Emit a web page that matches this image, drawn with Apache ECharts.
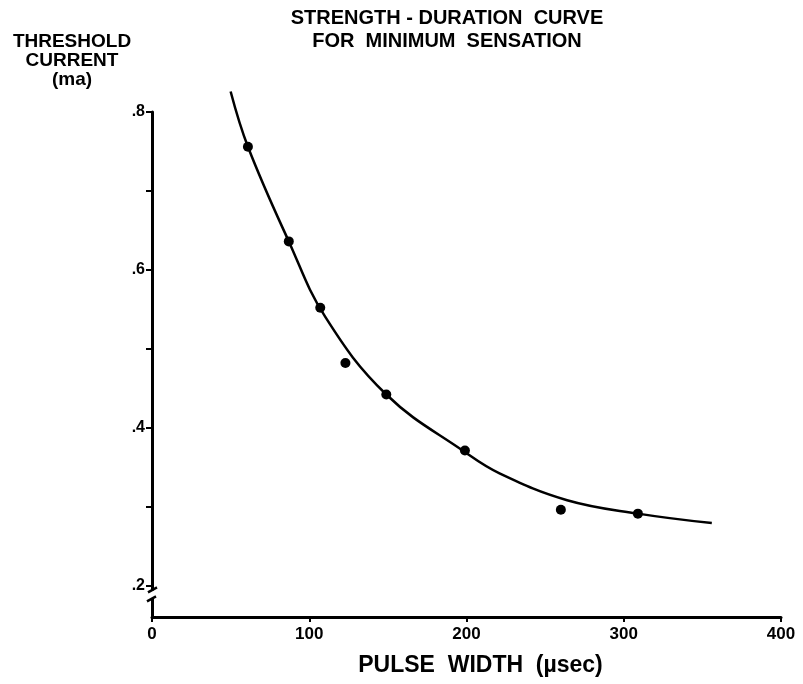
<!DOCTYPE html>
<html>
<head>
<meta charset="utf-8">
<script src="https://cdn.jsdelivr.net/npm/echarts@6/dist/echarts.min.js"></script>
<style>
html,body{margin:0;padding:0;background:#fff;}
#c{width:803px;height:684px;}
</style>
</head>
<body>
<div id="c"></div>
<script>
// Measured points: pulse width (µsec) and threshold current (ma)
const pointX = [61, 87, 107, 123, 149, 199, 260, 309];
const pointY = [0.756, 0.636, 0.552, 0.482, 0.442, 0.371, 0.296, 0.291];
// Fitted curve
const curveX = [50, 61, 87, 110, 149, 199, 221, 264, 309, 356];
const curveY = [0.826, 0.756, 0.636, 0.541, 0.442, 0.369, 0.342, 0.308, 0.291, 0.279];
// Ticks
const yTicks = [0.2, 0.3, 0.4, 0.5, 0.6, 0.7, 0.8];
const yLabels = [0.2, 0.4, 0.6, 0.8];

const FONT = '"Liberation Sans", Arial, sans-serif';
const chart = echarts.init(document.getElementById('c'), null, {renderer: 'canvas'});

const option = {
  backgroundColor: '#fff',
  animation: false,
  title: [
    {text: 'STRENGTH - DURATION  CURVE\nFOR  MINIMUM  SENSATION', left: 442, top: 2, textAlign: 'center',
     textStyle: {fontFamily: FONT, fontWeight: 'bold', fontSize: 20, color: '#000', lineHeight: 23, align: 'center'}},
    {text: 'THRESHOLD\nCURRENT\n(ma)', left: 67, top: 27, textAlign: 'center',
     textStyle: {fontFamily: FONT, fontWeight: 'bold', fontSize: 19, color: '#000', lineHeight: 19, align: 'center'}}
  ],
  grid: {left: 152, right: 22, top: 112, bottom: 67},
  xAxis: {
    type: 'value', min: 0, max: 400, interval: 100,
    name: 'PULSE  WIDTH  (µsec)', nameLocation: 'middle', nameGap: 37,
    nameTextStyle: {fontFamily: FONT, fontWeight: 'bold', fontSize: 23, color: '#000', padding: [0, 0, 0, 28]},
    axisLine: {show: true, lineStyle: {color: '#000', width: 3}},
    axisTick: {show: true, length: 5, lineStyle: {color: '#000', width: 2}},
    axisLabel: {fontFamily: FONT, fontWeight: 'bold', fontSize: 17, color: '#000', margin: 9},
    splitLine: {show: false}
  },
  yAxis: {
    type: 'value', min: 0.16, max: 0.8,
    axisLine: {show: true, lineStyle: {color: '#000', width: 3}},
    axisTick: {show: true, length: 6, customValues: yTicks, lineStyle: {color: '#000', width: 2}},
    axisLabel: {fontFamily: FONT, fontWeight: 'bold', fontSize: 16, color: '#000', margin: 7,
      customValues: yLabels,
      formatter: v => '.' + Math.round(v * 10)},
    splitLine: {show: false}
  },
  series: [
    {type: 'line', data: curveX.map((x, i) => [x, curveY[i]]), smooth: 0.4,
     showSymbol: false, clip: false, lineStyle: {color: '#000', width: 2.5}, z: 2},
    {type: 'scatter', data: pointX.map((x, i) => [x, pointY[i]]), symbol: 'circle', symbolSize: 10,
     itemStyle: {color: '#000', opacity: 1}, z: 3}
  ]
};
chart.setOption(option);

// Axis break marks on the y axis below .2
function drawBreak() {
  const top = chart.convertToPixel({gridIndex: 0}, [0, 0.2]);
  const ax = top[0], y0 = top[1] + 5;
  chart.setOption({graphic: [
    {type: 'rect', shape: {x: ax - 4, y: y0, width: 8, height: 8}, style: {fill: '#fff'}, z: 10},
    {type: 'line', shape: {x1: ax - 4, y1: y0 + 2, x2: ax + 5, y2: y0 - 3}, style: {stroke: '#000', lineWidth: 2.5}, z: 11},
    {type: 'line', shape: {x1: ax - 5, y1: y0 + 11, x2: ax + 4, y2: y0 + 6}, style: {stroke: '#000', lineWidth: 2.5}, z: 11}
  ]});
}
drawBreak();
</script>
</body>
</html>
